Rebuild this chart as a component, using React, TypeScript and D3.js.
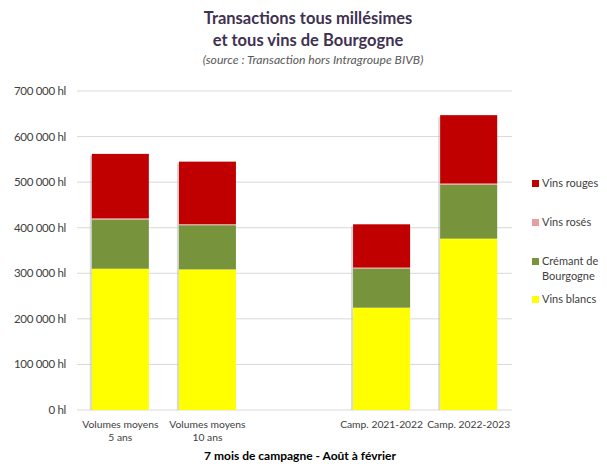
import React from "react";
import * as d3 from "d3";

const categories = ["Volumes moyens\n5 ans", "Volumes moyens\n10 ans", "", "Camp. 2021-2022", "Camp. 2022-2023"];
const seriesNames = ["Vins blancs", "Crémant de Bourgogne", "Vins rosés", "Vins rouges"];
const vinsBlancs = [310000, 308500, null, 224500, 376000];
const cremant = [108000, 97000, null, 86000, 118000];
const vinsRoses = [2500, 2500, null, 2000, 3000];
const vinsRouges = [141500, 137000, null, 95000, 150000];
const yTicks = [0, 100000, 200000, 300000, 400000, 500000, 600000, 700000];
const colors = ["#ffff00", "#77933c", "#e6a0a0", "#c00000"];

const W = 607, H = 464;
const font = "Lato, 'Open Sans', sans-serif";

export default function App() {
  const x = d3.scaleBand<number>().domain(d3.range(5)).range([77, 512]).paddingInner(0.345).paddingOuter(0.17);
  const y = d3.scaleLinear().domain([0, 700000]).range([410, 91]);
  const fmt = (v: number) => (v === 0 ? "0 hl" : d3.format(",")(v).replace(/,/g, " ") + " hl");
  const series = [vinsBlancs, cremant, vinsRoses, vinsRouges];
  const rects: JSX.Element[] = [];
  for (let i = 0; i < 5; i++) {
    let acc = 0;
    if (series[0][i] == null) continue;
    const xi = x(i)!;
    const total = series.reduce((s, arr) => s + (arr[i] as number), 0);
    rects.push(
      <rect key={`sh${i}`} x={xi - 2} y={y(total) + 2} width={3} height={y(0) - y(total) - 2} fill="#bfbfbf" opacity={0.6} />
    );
    series.forEach((arr, k) => {
      const v = arr[i] as number;
      const y0 = y(acc), y1 = y(acc + v);
      rects.push(<rect key={`${i}-${k}`} x={xi} y={y1} width={x.bandwidth()} height={y0 - y1} fill={colors[k]} />);
      acc += v;
    });
  }
  const legend = [
    { name: seriesNames[3], color: colors[3], y: 187, lines: ["Vins rouges"] },
    { name: seriesNames[2], color: colors[2], y: 226, lines: ["Vins rosés"] },
    { name: seriesNames[1], color: colors[1], y: 265, lines: ["Crémant de", "Bourgogne"] },
    { name: seriesNames[0], color: colors[0], y: 303, lines: ["Vins blancs"] },
  ];
  return (
    <svg width={W} height={H} style={{ position: "absolute", left: 0, top: 0, background: "#fff" }} fontFamily={font}>
      <text x={308} y={24} textAnchor="middle" fontSize={16.5} fontWeight="bold" fill="#3f3151">Transactions tous millésimes</text>
      <text x={308} y={46} textAnchor="middle" fontSize={16.5} fontWeight="bold" fill="#3f3151">et tous vins de Bourgogne</text>
      <text x={313} y={64} textAnchor="middle" fontSize={12.2} fontStyle="italic" fill="#595959">(source : Transaction hors Intragroupe BIVB)</text>
      {yTicks.map((t) => (
        <g key={t}>
          <line x1={77} x2={512} y1={y(t)} y2={y(t)} stroke="#d9d9d9" strokeWidth={1} />
          <text x={66} y={y(t) + 4} textAnchor="end" fontSize={11.5} fill="#404040" letterSpacing={-0.3}>{fmt(t)}</text>
        </g>
      ))}
      {rects}
      {categories.map((c, i) =>
        c.split("\n").map((line, j) => (
          <text key={`${i}-${j}`} x={x(i)! + x.bandwidth() / 2} y={428 + j * 13} textAnchor="middle" fontSize={10.3} fill="#404040">{line}</text>
        ))
      )}
      <text x={300} y={460} textAnchor="middle" fontSize={12} fontWeight="bold" fill="#000">7 mois de campagne - Août à février</text>
      {legend.map((l) => (
        <g key={l.name}>
          <rect x={532} y={l.y - 7} width={7} height={7} fill={l.color} />
          {l.lines.map((ln, j) => (
            <text key={j} x={542} y={l.y + j * 15} fontSize={11} fill="#404040">{ln}</text>
          ))}
        </g>
      ))}
    </svg>
  );
}
